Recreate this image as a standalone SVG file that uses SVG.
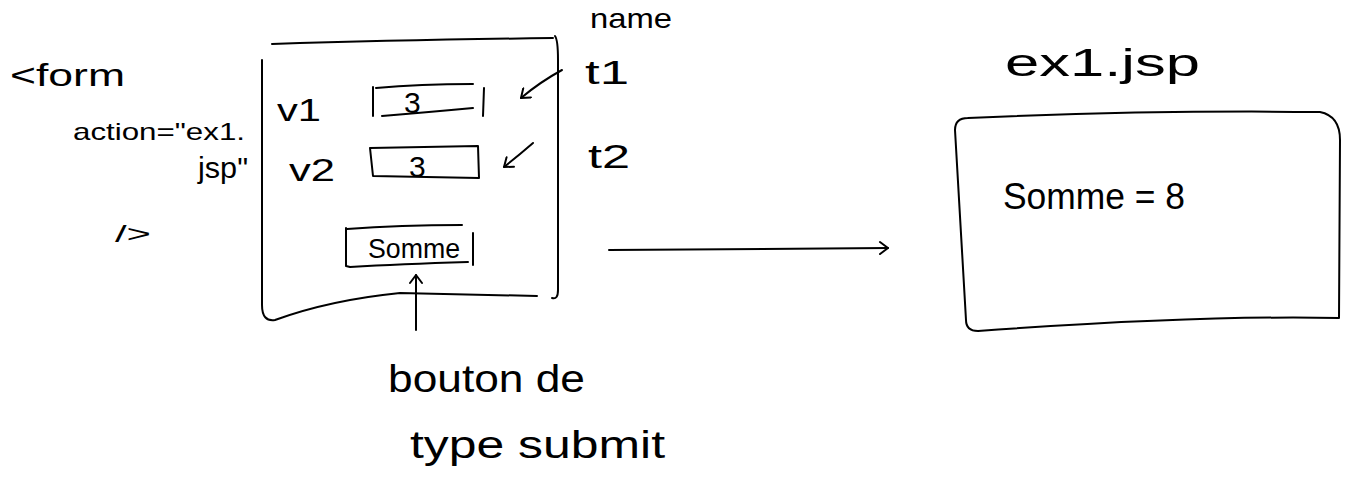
<svg xmlns="http://www.w3.org/2000/svg" width="1347" height="484" viewBox="0 0 1347 484">
<defs>
<style>
.s{fill:none;stroke:#000;stroke-width:2;stroke-linecap:round;stroke-linejoin:round}
.t{font-family:"Liberation Sans","DejaVu Sans",sans-serif;fill:#000}
</style>
<marker id="ah" markerWidth="14" markerHeight="14" refX="10" refY="7" orient="auto" markerUnits="userSpaceOnUse">
<path d="M2,1 L10,7 L2,13" class="s"/>
</marker>
</defs>
<rect width="1347" height="484" fill="#fff"/>

<g id="form-code">
<text class="t" x="10" y="86" font-size="32" textLength="115" lengthAdjust="spacingAndGlyphs">&lt;form</text>
<text class="t" x="73" y="140" font-size="24" textLength="172" lengthAdjust="spacingAndGlyphs">action="ex1.</text>
<text class="t" x="198" y="178" font-size="30" textLength="50" lengthAdjust="spacingAndGlyphs">jsp"</text>
<text class="t" x="115" y="242" font-size="24" textLength="36" lengthAdjust="spacingAndGlyphs">/&gt;</text>
</g>

<g id="form">
<path class="s" d="M272,44 Q400,40 553,38 M555,36 Q558,40 558,60 L558,290 Q558,300 552,298 M262,60 L262,305 Q262,322 275,320 Q330,300 400,293 L537,296"/>
</g>

<g id="field-v1">
<text class="t" x="277" y="121" font-size="32" textLength="44" lengthAdjust="spacingAndGlyphs">v1</text>
<path class="s" d="M373,87 L373,116 M376,88 Q420,84 473,84 M382,116 Q430,112 473,108 M484,88 L483,116"/>
<text class="t" x="404" y="113" font-size="30">3</text>
</g>

<g id="field-v2">
<text class="t" x="289" y="181" font-size="32" textLength="46" lengthAdjust="spacingAndGlyphs">v2</text>
<path class="s" d="M370,148 L478,146 L479,178 L373,176 Z"/>
<text class="t" x="409" y="177" font-size="30">3</text>
</g>

<g id="button">
<path class="s" d="M347,229 Q400,225 462,225 M346,228 L346,266 L350,267 Q400,264 468,262 M473,233 L473,265"/>
<text class="t" x="368" y="258" font-size="28" textLength="92" lengthAdjust="spacingAndGlyphs">Somme</text>
</g>

<g id="labels">
<text class="t" x="590" y="28" font-size="28" textLength="82" lengthAdjust="spacingAndGlyphs">name</text>
<text class="t" x="585" y="84" font-size="34" textLength="44" lengthAdjust="spacingAndGlyphs">t1</text>
<text class="t" x="588" y="168" font-size="34" textLength="42" lengthAdjust="spacingAndGlyphs">t2</text>
</g>

<g id="annotation">
<text class="t" x="388" y="392" font-size="38" textLength="197" lengthAdjust="spacingAndGlyphs">bouton de</text>
<text class="t" x="410" y="458" font-size="38" textLength="255" lengthAdjust="spacingAndGlyphs">type submit</text>
</g>

<g id="result-page">
<text class="t" x="1005" y="76" font-size="38" textLength="195" lengthAdjust="spacingAndGlyphs">ex1.jsp</text>
<path class="s" d="M968,118 Q1150,110 1320,112 Q1340,116 1340,140 L1339,318 Q1200,315 978,331 Q966,331 966,320 L955,130 Q955,118 968,118"/>
<text class="t" x="1003" y="209" font-size="36" textLength="182" lengthAdjust="spacingAndGlyphs">Somme = 8</text>
</g>

<g id="connectors">
<path class="s" d="M562,70 Q540,82 521,98" marker-end="url(#ah)"/>
<path class="s" d="M533,143 Q518,156 504,167" marker-end="url(#ah)"/>
<path class="s" d="M416,330 L416,275" marker-end="url(#ah)"/>
<path class="s" d="M609,250 L888,248" marker-end="url(#ah)"/>
</g>
</svg>
